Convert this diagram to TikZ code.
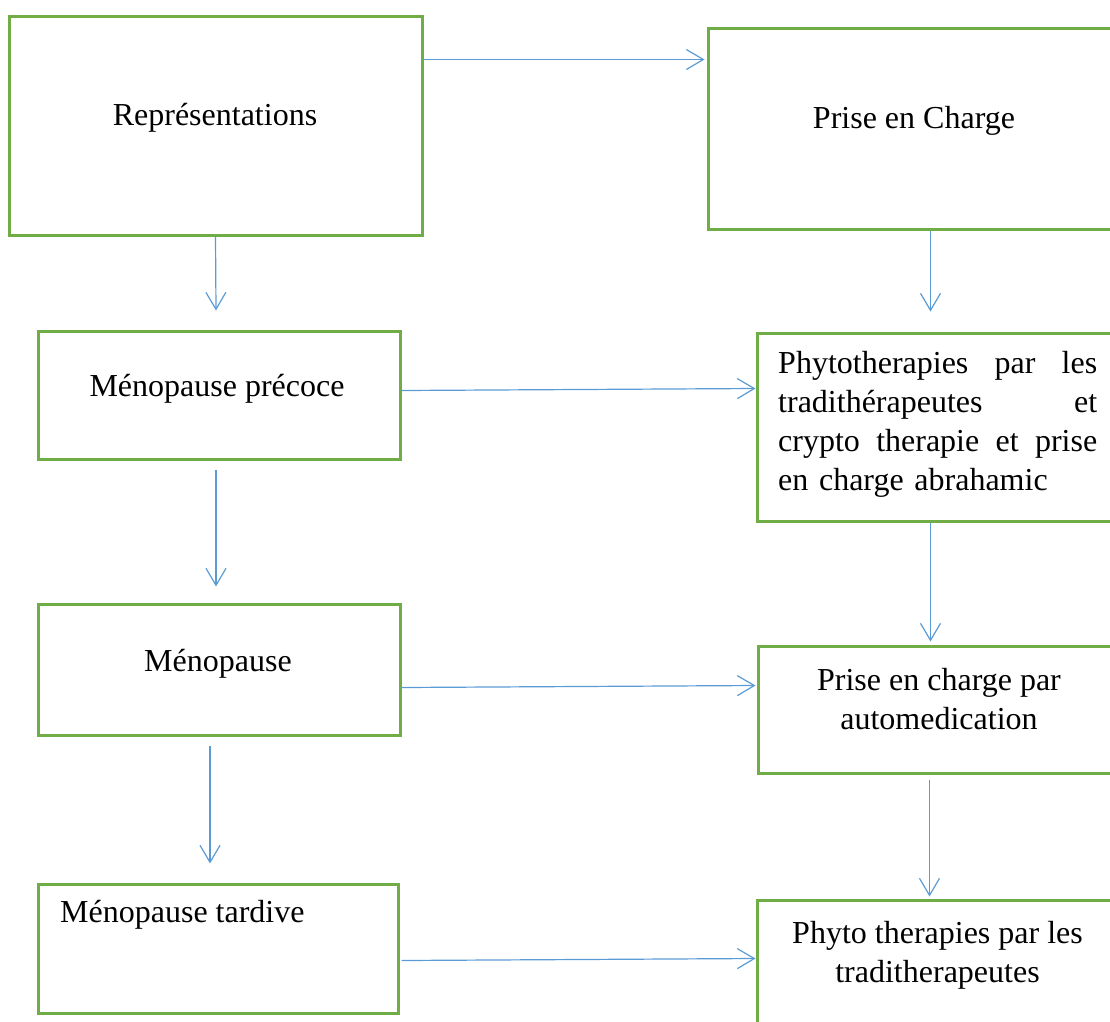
\documentclass[tikz,border=0pt]{standalone}
\usepackage{fontspec}
\setmainfont{Liberation Serif}
\usetikzlibrary{arrows.meta,calc}
\definecolor{boxgreen}{RGB}{112,173,71}
\definecolor{arrblue}{RGB}{91,155,213}
\begin{document}
\begin{tikzpicture}[x=1pt,y=-1pt,
  box/.style={draw=boxgreen,line width=3pt,inner sep=0pt,fill=none},
  txt/.style={inner sep=0pt,font=\fontsize{32}{39}\selectfont},
  arr/.style={draw=arrblue,line width=1.2pt,-{Straight Barb[length=17pt,width=20pt,line width=1.2pt]}}]
\useasboundingbox (0,0) rectangle (1110,1021);
\clip (0,0) rectangle (1110,1021);
% boxes
\node[box,minimum width=413pt,minimum height=219pt] (b1) at (215.5,125.5) {};
\node[box,minimum width=422pt,minimum height=201pt] (b2) at (919,128.5) {};
\node[box,minimum width=362pt,minimum height=128pt] (b3) at (219,395) {};
\node[box,minimum width=373pt,minimum height=188pt] (b4) at (943.5,427) {};
\node[box,minimum width=362pt,minimum height=131pt] (b5) at (219,669.5) {};
\node[box,minimum width=372pt,minimum height=127pt] (b6) at (944,709.5) {};
\node[box,minimum width=360pt,minimum height=129pt] (b7) at (218,948.5) {};
\node[box,minimum width=373pt,minimum height=150pt] (b8) at (943.5,975) {};
% texts
\node[txt,anchor=base] (t1) at (215,125) {Représentations};
\node[txt,anchor=base] (t2) at (914,128) {Prise en Charge};
\node[txt,anchor=base] (t3) at (217,396) {Ménopause précoce};
\node[txt,anchor=north west,text width=319pt,align=left] (t4) at (778,351)
  {\makebox[319pt][l]{Phytotherapies\hfill par\hfill les}\\
   \makebox[319pt][l]{tradithérapeutes\hfill et}\\
   \makebox[319pt][l]{crypto\hfill therapie\hfill et\hfill prise}\\
   en charge abrahamic};
\node[txt,anchor=base] (t5) at (218,671) {Ménopause};
\node[txt,anchor=north,align=center] (t6) at (939,668) {Prise en charge par\\automedication};
\node[txt,anchor=base west] (t7) at (60,922) {Ménopause tardive};
\node[txt,anchor=north,align=center] (t8) at (937.5,921) {Phyto therapies par les\\traditherapeutes};
% connectors
\draw[arr] ($(b1.north east)+(0,45)$) -- ($(b2.north west)+(-2,33)$);
\draw[arr] (b1.south) -- ($(b3.north)+(-3,-19)$);
\draw[arr] ($(b2.south west)+(224,0)$) -- ($(b4.north west)+(175,-20)$);
\draw[arr] ($(b3.north east)+(0,61)$) -- ($(b4.north west)+(0,57)$);
\draw[arr] ($(b3.south)+(-3,9)$) -- ($(b5.north)+(-3,-16)$);
\draw[arr] ($(b4.south west)+(175,0)$) -- ($(b6.north west)+(174,-3)$);
\draw[arr] ($(b5.north east)+(0,85)$) -- ($(b6.north west)+(-1,41)$);
\draw[arr] ($(b5.south)+(-9,9)$) -- ($(b7.north)+(-8,-19)$);
\draw[arr] ($(b6.south west)+(173,5)$) -- ($(b8.north west)+(174,-2)$);
\draw[arr] ($(b7.north east)+(2,78)$) -- ($(b8.north west)+(0,60)$);
\end{tikzpicture}
\end{document}
